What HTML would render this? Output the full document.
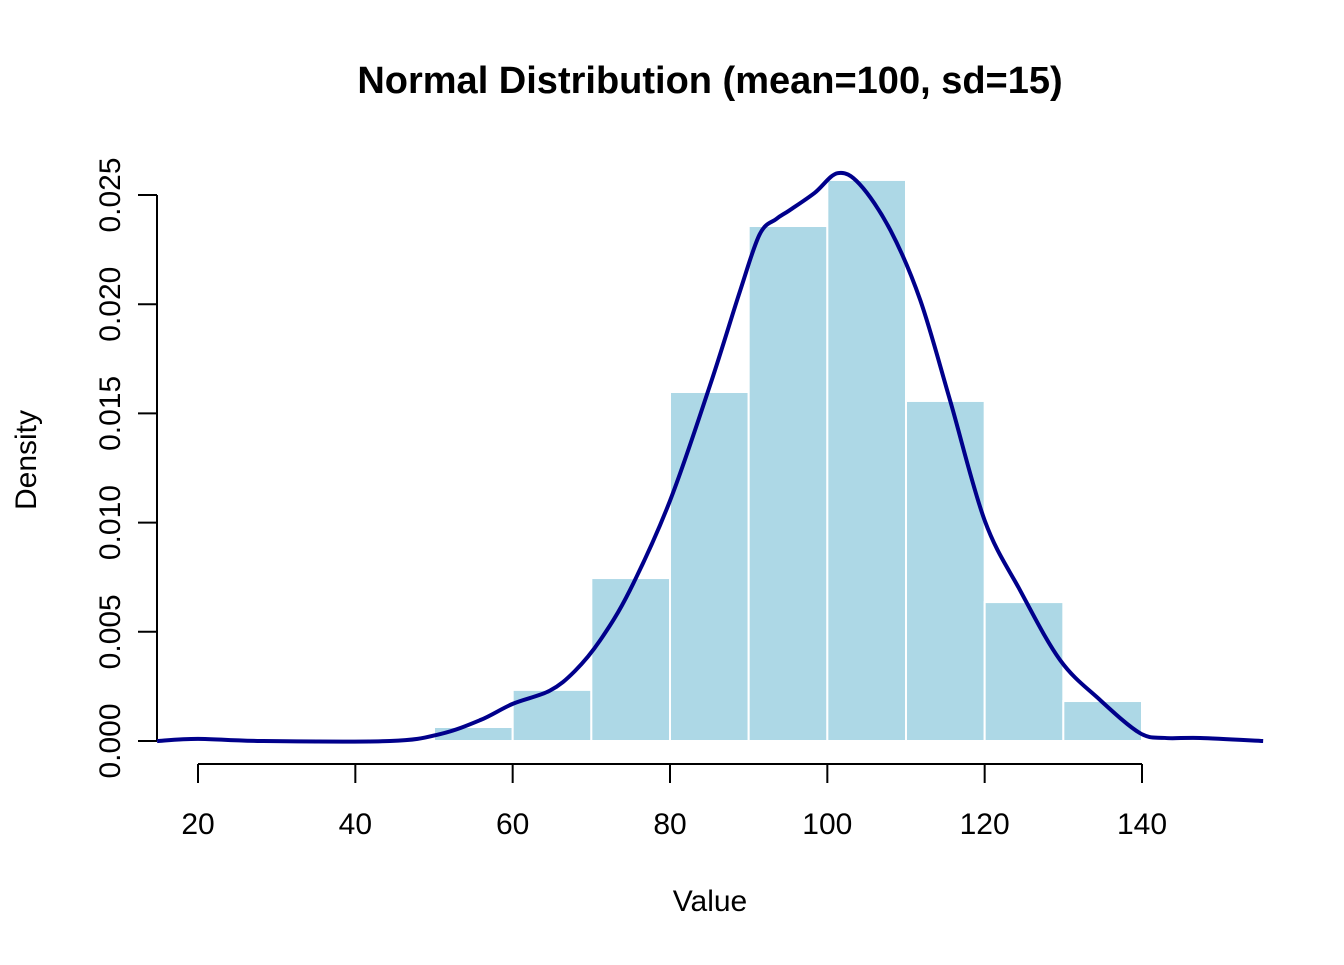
<!DOCTYPE html>
<html><head><meta charset="utf-8"><style>
html,body{margin:0;padding:0;background:#fff}
svg text{font-family:"Liberation Sans",Arial,sans-serif}
</style></head><body>
<svg id="chart" width="1344" height="960" viewBox="0 0 1344 960" xmlns="http://www.w3.org/2000/svg">
<text x="710" y="93" text-anchor="middle" font-size="38" font-weight="bold">Normal Distribution (mean=100, sd=15)</text>
<text x="710" y="911" text-anchor="middle" font-size="30">Value</text>
<text transform="translate(36,460) rotate(-90)" text-anchor="middle" font-size="30">Density</text>
<g id="bars"></g>
<g id="axes"></g>
<path id="curve" fill="none" stroke="#00008B" stroke-width="4" stroke-linejoin="round"></path>
</svg>
<script>
const binStarts = [50,60,70,80,90,100,110,120,130];
const binDensities = [0.00064,0.00234,0.00746,0.01598,0.02358,0.02569,0.01557,0.00636,0.00183];
const binWidth = 10;
const curveX = [14.8,20,28,44.4,50.8,55.9,60,64.7,67.9,71.1,74.9,80,85.1,88.9,91.4,93.5,95.2,98.4,101.3,104.1,108,111.8,115.6,120,124.5,129.6,134.6,139.7,142.9,147.4,155.4];
const curveY = [0,0.0001,0,0,0.00032,0.00096,0.0017,0.0023,0.0032,0.0046,0.0069,0.011,0.0163,0.0206,0.0232,0.0239,0.0243,0.0251,0.026,0.0255,0.0234,0.0202,0.0156,0.0101,0.0069,0.0037,0.0019,0.00037,0.00014,0.00014,0];
const xTicks = [20,40,60,80,100,120,140];
const yTicks = ["0.000","0.005","0.010","0.015","0.020","0.025"];

const NS="http://www.w3.org/2000/svg";
const sx = v => 198 + (v-20)*(944/120);
const sy = v => 741 - v*(546/0.025);
function mk(tag, attrs, parent){const e=document.createElementNS(NS,tag);for(const k in attrs)e.setAttribute(k,attrs[k]);parent.appendChild(e);return e;}

const bars=document.getElementById('bars');
binStarts.forEach((b,i)=>{
  const x0=sx(b), x1=sx(b+binWidth), y=sy(binDensities[i]);
  const r=mk('rect',{x:x0,y:y,width:x1-x0,height:sy(0)-y,fill:'#ADD8E6',stroke:'#ffffff','stroke-width':2},bars);
  
  
});

const axes=document.getElementById('axes');
const xl=mk('line',{x1:sx(xTicks[0]),x2:sx(xTicks[xTicks.length-1]),y1:764,y2:764,stroke:'#000','stroke-width':2},axes);


xTicks.forEach(t=>{
  mk('line',{x1:sx(t),x2:sx(t),y1:764,y2:783,stroke:'#000','stroke-width':2},axes);
  const tx=mk('text',{x:sx(t),y:834,'text-anchor':'middle','font-size':30},axes);
  tx.textContent=t;
  
  
});
const yl=mk('line',{x1:157,x2:157,y1:sy(0),y2:sy(0.025),stroke:'#000','stroke-width':2},axes);


yTicks.forEach(t=>{
  const y=sy(parseFloat(t));
  mk('line',{x1:138,x2:157,y1:y,y2:y,stroke:'#000','stroke-width':2},axes);
  const tx=mk('text',{transform:'translate(120,'+y+') rotate(-90)','text-anchor':'middle','font-size':30},axes);
  tx.textContent=t;
  
  
});

const pts=curveX.map((v,i)=>[sx(v),sy(curveY[i])]);
let d='M'+pts[0][0]+','+pts[0][1];
for(let i=0;i<pts.length-1;i++){
  const p0=pts[Math.max(0,i-1)],p1=pts[i],p2=pts[i+1],p3=pts[Math.min(pts.length-1,i+2)];
  const c1=[p1[0]+(p2[0]-p0[0])/6,p1[1]+(p2[1]-p0[1])/6];
  const c2=[p2[0]-(p3[0]-p1[0])/6,p2[1]-(p3[1]-p1[1])/6];
  d+=' C'+c1[0]+','+c1[1]+' '+c2[0]+','+c2[1]+' '+p2[0]+','+p2[1];
}
document.getElementById('curve').setAttribute('d',d);
</script>
</body></html>
